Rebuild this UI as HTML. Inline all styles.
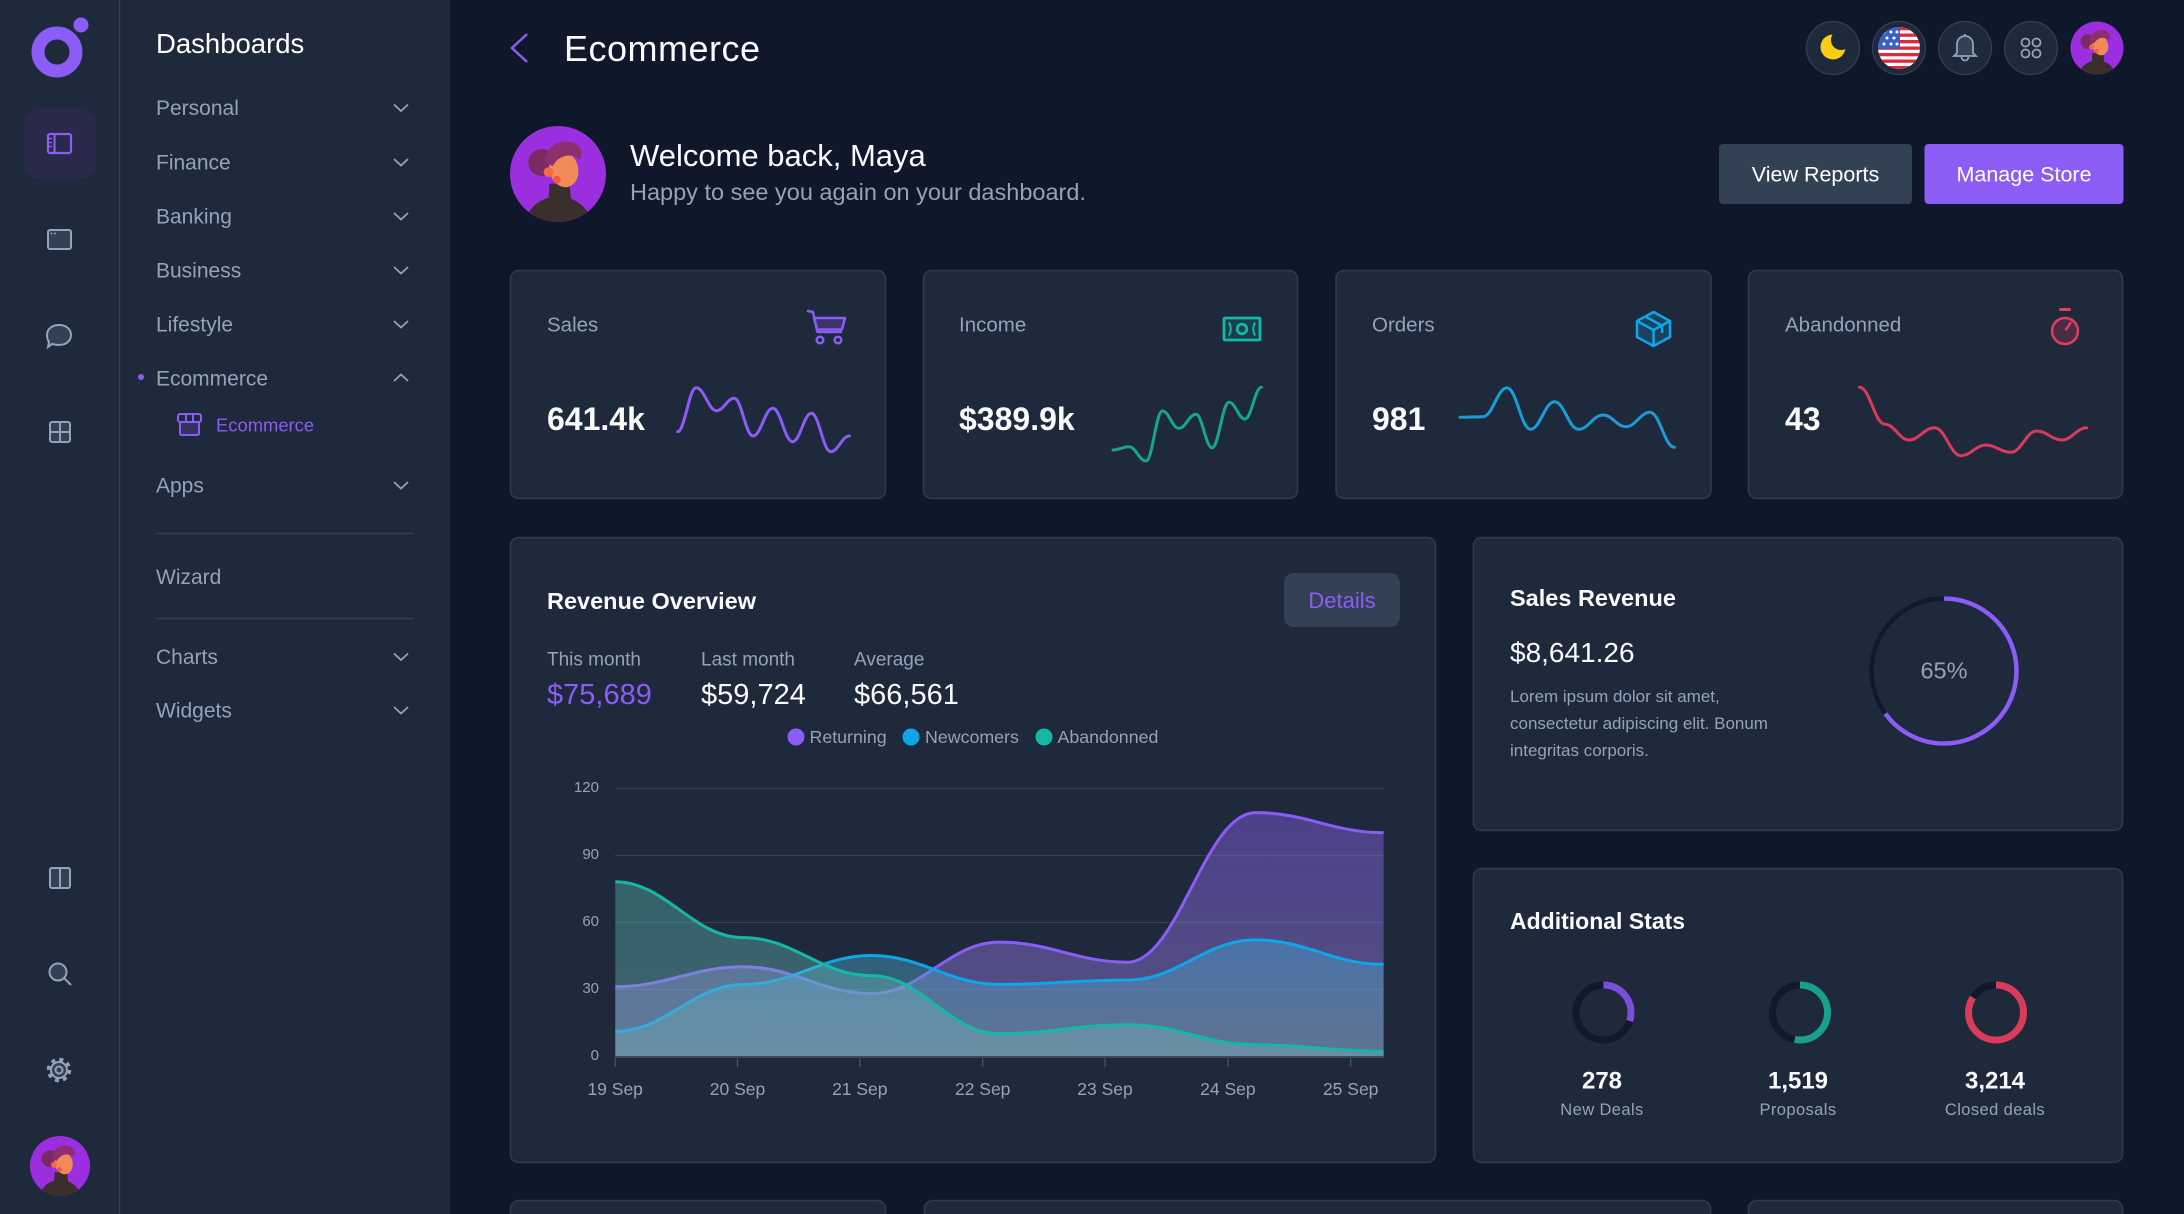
<!DOCTYPE html>
<html><head><meta charset="utf-8">
<style>
html,body{margin:0;padding:0;background:#0f172a;}
body{width:2184px;height:1214px;overflow:hidden;}
svg{display:block;}
text{font-family:"Liberation Sans",sans-serif;}
</style></head>
<body>
<svg width="2184" height="1214" viewBox="0 0 2184 1214" xmlns="http://www.w3.org/2000/svg">
<defs>
  <clipPath id="avc"><circle cx="50" cy="50" r="50"/></clipPath>
  <symbol id="av" viewBox="0 0 100 100">
    <circle cx="50" cy="50" r="50" fill="#9b2fe0"/>
    <g clip-path="url(#avc)">
      <path d="M16,100 C20,82 34,74 50,73 C66,74 80,82 86,100 Z" fill="#3a2f2d"/>
      <path d="M41,60 L62,60 L64,80 L40,80 Z" fill="#3a2f2d"/>
      <circle cx="33" cy="38" r="14" fill="#7b2a63"/>
      <ellipse cx="56" cy="45" rx="15" ry="19" fill="#f28a57" transform="rotate(-15 56 45)"/>
      <path d="M36,36 C38,18 58,11 71,20 C75,24 75,30 73,35 C64,28 52,29 44,42 Z" fill="#8d2f6e"/>
      <circle cx="40" cy="48" r="5" fill="#f46a45"/>
      <circle cx="49" cy="56" r="4" fill="#f0584f"/>
    </g>
  </symbol>
  <clipPath id="flagc"><circle cx="1899" cy="48" r="21"/></clipPath>
  <mask id="moonm"><rect x="1800" y="10" width="70" height="70" fill="#fff"/><circle cx="1841" cy="40" r="10" fill="#000"/></mask>
  <linearGradient id="gp" gradientUnits="userSpaceOnUse" x1="0" y1="790" x2="0" y2="1056">
    <stop offset="0" stop-color="#8b5cf6" stop-opacity="0.42"/>
    <stop offset="1" stop-color="#9a86d8" stop-opacity="0.45"/>
  </linearGradient>
  <linearGradient id="gb" gradientUnits="userSpaceOnUse" x1="0" y1="930" x2="0" y2="1056">
    <stop offset="0" stop-color="#39a6d9" stop-opacity="0.45"/>
    <stop offset="1" stop-color="#6e9ba5" stop-opacity="0.45"/>
  </linearGradient>
  <linearGradient id="gt" gradientUnits="userSpaceOnUse" x1="0" y1="790" x2="0" y2="1056">
    <stop offset="0" stop-color="#40bfa8" stop-opacity="0.4"/>
    <stop offset="1" stop-color="#78b4be" stop-opacity="0.4"/>
  </linearGradient>
</defs>

<!-- backgrounds -->
<rect x="0" y="0" width="2184" height="1214" fill="#0f172a"/>
<rect x="0" y="0" width="450" height="1214" fill="#1e293b"/>
<line x1="119.5" y1="0" x2="119.5" y2="1214" stroke="#334155" stroke-width="1.5"/>

<!-- logo -->
<circle cx="57" cy="52" r="19" fill="none" stroke="#8b5cf6" stroke-width="13"/>
<circle cx="81" cy="25" r="7.5" fill="#8b5cf6"/>

<!-- rail -->
<rect x="24" y="108" width="72" height="71" rx="16" fill="#29294b"/>
<g fill="none" stroke="#8b5cf6" stroke-width="2.2">
  <rect x="48" y="134" width="23" height="19" rx="2"/>
  <line x1="54.5" y1="134" x2="54.5" y2="153"/>
</g>
<g stroke="#8b5cf6" stroke-width="1.5">
  <line x1="49" y1="138.5" x2="52" y2="138.5"/><line x1="49" y1="142.5" x2="52" y2="142.5"/><line x1="49" y1="146.5" x2="52" y2="146.5"/>
</g>
<g fill="none" stroke="#94a3b8" stroke-width="2">
  <rect x="48" y="230" width="23" height="19" rx="2" fill="#334155"/>
  <path d="M59,325 C66,325 71,329 71,335 C71,341 66,345 59,345 C56,345 54,344.5 52,344 L48,347 L49,342 C47.5,340 47,338 47,335 C47,329 52,325 59,325 Z" fill="#334155"/>
  <rect x="50" y="422" width="20" height="20" rx="2" fill="#334155"/>
  <line x1="60" y1="422" x2="60" y2="442"/><line x1="50" y1="432" x2="70" y2="432"/>
  <rect x="50" y="868" width="20" height="20" rx="2" fill="#334155"/>
  <line x1="60" y1="868" x2="60" y2="888"/>
  <circle cx="58" cy="972" r="8.5" fill="#334155"/>
  <line x1="64" y1="978" x2="71" y2="985"/>
  <circle cx="59" cy="1070" r="8" fill="#334155"/>
  <circle cx="59" cy="1070" r="3.5"/>
</g>
<circle cx="59" cy="1070" r="10.5" fill="none" stroke="#94a3b8" stroke-width="3.5" stroke-dasharray="4 4.25"/>
<g fill="#94a3b8"><circle cx="51.5" cy="233.5" r="1"/><circle cx="55" cy="233.5" r="1"/></g>
<use href="#av" x="30" y="1136" width="60" height="60"/>

<!-- sidebar menu -->
<text x="156" y="53" font-size="27.5" fill="#ffffff">Dashboards</text>
<g font-size="21" fill="#94a3b8">
  <text x="156" y="115">Personal</text>
  <text x="156" y="169.5">Finance</text>
  <text x="156" y="223.5">Banking</text>
  <text x="156" y="277.5">Business</text>
  <text x="156" y="331.5">Lifestyle</text>
  <text x="156" y="385.5">Ecommerce</text>
  <text x="156" y="492.5">Apps</text>
  <text x="156" y="584">Wizard</text>
  <text x="156" y="664">Charts</text>
  <text x="156" y="717.5">Widgets</text>
</g>
<g fill="none" stroke="#94a3b8" stroke-width="1.8">
  <path d="M394,104.5 L401,111 L408,104.5"/>
  <path d="M394,159 L401,165.5 L408,159"/>
  <path d="M394,213 L401,219.5 L408,213"/>
  <path d="M394,267 L401,273.5 L408,267"/>
  <path d="M394,321 L401,327.5 L408,321"/>
  <path d="M394,381 L401,374.5 L408,381"/>
  <path d="M394,482 L401,488.5 L408,482"/>
  <path d="M394,653.5 L401,660 L408,653.5"/>
  <path d="M394,707 L401,713.5 L408,707"/>
</g>
<circle cx="141" cy="377" r="3" fill="#8b5cf6"/>
<g fill="none" stroke="#8b5cf6" stroke-width="2">
  <rect x="178" y="414" width="23" height="8" rx="2"/>
  <rect x="180" y="422" width="19" height="13" rx="1.5" fill="#8b5cf6" fill-opacity="0.2"/>
  <line x1="186" y1="414" x2="186" y2="422"/><line x1="193" y1="414" x2="193" y2="422"/>
</g>
<text x="216" y="431.5" font-size="18.4" fill="#8b5cf6">Ecommerce</text>
<g stroke="#334155" stroke-width="1.5">
  <line x1="156" y1="533.5" x2="413" y2="533.5"/>
  <line x1="156" y1="618.5" x2="413" y2="618.5"/>
</g>

<!-- header -->
<path d="M527,34 L512,48 L527,62" fill="none" stroke="#8b5cf6" stroke-width="2.5"/>
<text x="564" y="61" font-size="36" fill="#f8fafc" letter-spacing="0.5">Ecommerce</text>

<g fill="#1e293b" stroke="#334155" stroke-width="1.2">
  <circle cx="1833" cy="48" r="26.5"/>
  <circle cx="1899" cy="48" r="26.5"/>
  <circle cx="1965" cy="48" r="26.5"/>
  <circle cx="2031" cy="48" r="26.5"/>
</g>
<circle cx="1833" cy="47" r="12.5" fill="#facc15" mask="url(#moonm)"/>
<g clip-path="url(#flagc)">
  <rect x="1876" y="25" width="46" height="46" fill="#ffffff"/>
  <g fill="#e0263a">
    <rect x="1876" y="27" width="46" height="3.3"/>
    <rect x="1876" y="33.5" width="46" height="3.3"/>
    <rect x="1876" y="40" width="46" height="3.3"/>
    <rect x="1876" y="46.5" width="46" height="3.3"/>
    <rect x="1876" y="53" width="46" height="3.3"/>
    <rect x="1876" y="59.5" width="46" height="3.3"/>
    <rect x="1876" y="66" width="46" height="4"/>
  </g>
  <rect x="1876" y="25" width="24" height="24" fill="#3b5fc6"/>
  <g fill="#ffffff">
    <circle cx="1884" cy="32" r="1.5"/><circle cx="1891" cy="32" r="1.5"/><circle cx="1897" cy="32" r="1.5"/>
    <circle cx="1887" cy="38" r="1.5"/><circle cx="1894" cy="38" r="1.5"/>
    <circle cx="1884" cy="44" r="1.5"/><circle cx="1891" cy="44" r="1.5"/><circle cx="1897" cy="44" r="1.5"/>
  </g>
</g>
<g fill="none" stroke="#94a3b8" stroke-width="1.8">
  <path d="M1957,53 L1957,44 A8,8 0 0 1 1973,44 L1973,53 L1976,56 L1954,56 Z" fill="#334155"/>
  <path d="M1961.5,57 A3.5,3.5 0 0 0 1968.5,57"/>
  <line x1="1965" y1="34" x2="1965" y2="36"/>
  <circle cx="2025.5" cy="42.5" r="4"/><circle cx="2036.5" cy="42.5" r="4"/>
  <circle cx="2025.5" cy="53.5" r="4"/><circle cx="2036.5" cy="53.5" r="4"/>
</g>
<use href="#av" x="2070.5" y="21.5" width="53" height="53"/>

<!-- welcome -->
<use href="#av" x="510" y="126" width="96" height="96"/>
<text x="630" y="166" font-size="31" fill="#f8fafc">Welcome back, Maya</text>
<text x="630" y="200" font-size="23.5" fill="#94a3b8">Happy to see you again on your dashboard.</text>
<rect x="1719" y="144" width="193" height="60" rx="4" fill="#334155"/>
<text x="1815.5" y="181.5" font-size="21.5" fill="#ffffff" text-anchor="middle">View Reports</text>
<rect x="1924.5" y="144" width="199" height="60" rx="4" fill="#8b5cf6"/>
<text x="2024" y="181.5" font-size="21.5" fill="#ffffff" text-anchor="middle">Manage Store</text>

<!-- stat cards -->
<g fill="#1e293b" stroke="#2e3b51" stroke-width="1.5">
  <rect x="510.5" y="270.5" width="375" height="228" rx="8"/>
  <rect x="923.5" y="270.5" width="374" height="228" rx="8"/>
  <rect x="1336" y="270.5" width="375" height="228" rx="8"/>
  <rect x="1748.5" y="270.5" width="374" height="228" rx="8"/>
</g>
<g font-size="20.5" fill="#94a3b8">
  <text x="547" y="331.7">Sales</text>
  <text x="959" y="331.7">Income</text>
  <text x="1372" y="331.7">Orders</text>
  <text x="1785" y="331.7">Abandonned</text>
</g>
<g font-size="32" font-weight="bold" fill="#f8fafc">
  <text x="547" y="430">641.4k</text>
  <text x="959" y="430">$389.9k</text>
  <text x="1372" y="430">981</text>
  <text x="1785" y="430">43</text>
</g>
<!-- stat icons -->
<g fill="none" stroke="#8b5cf6" stroke-width="2.5" stroke-linejoin="round" stroke-linecap="round">
  <path d="M808,311 L813,312 L817.5,332 L841,332"/>
  <path d="M814,318 L845,318 L842,329.5 L817,329.5 Z" fill="#8b5cf6" fill-opacity="0.25"/>
  <circle cx="820" cy="340" r="3.3"/><circle cx="838" cy="340" r="3.3"/>
</g>
<g fill="none" stroke="#14b8a6" stroke-width="2.8">
  <rect x="1224" y="318" width="36" height="22" rx="1" fill="#14b8a6" fill-opacity="0.15"/>
  <circle cx="1242" cy="329" r="4.8"/>
  <path d="M1229,322.5 Q1232.5,329 1229,335.5" stroke-width="2"/>
  <path d="M1255,322.5 Q1251.5,329 1255,335.5" stroke-width="2"/>
</g>
<g fill="none" stroke="#0ea5e9" stroke-width="2.5" stroke-linejoin="round">
  <path d="M1653.5,312 L1670,321 L1670,337 L1653.5,346 L1637,337 L1637,321 Z" fill="#0ea5e9" fill-opacity="0.2"/>
  <path d="M1637,321 L1653.5,330 L1670,321 M1653.5,330 L1653.5,346 M1645,316.5 L1662,325.5 L1662,333"/>
</g>
<g fill="none" stroke="#e23d5e" stroke-width="2.5" stroke-linecap="round">
  <circle cx="2065" cy="331" r="13" fill="#e23d5e" fill-opacity="0.22"/>
  <line x1="2060.5" y1="309.5" x2="2069.5" y2="309.5" stroke-width="3"/>
  <line x1="2066" y1="329.5" x2="2070.5" y2="323"/>
</g>
<!-- sparklines -->
<g fill="none" stroke-width="3" stroke-linecap="round">
  <path stroke="#8b5cf6" d="M677.5,431.7 C685,431.7 688.7,387.7 696.2,387.7 C704.4,387.7 708.4,410.7 716.6,410.7 C723.6,410.7 727.2,398.3 734.2,398.3 C741.7,398.3 745.5,436 753,436 C760.9,436 764.9,408.3 772.8,408.3 C780.7,408.3 784.7,441.7 792.6,441.7 C800.1,441.7 803.9,413.3 811.4,413.3 C819.1,413.3 823,451.7 830.7,451.7 C838.2,451.7 841.9,436 849.4,436"/>
  <path stroke="#17a58f" d="M1113,450 C1119.4,450 1122.6,446.7 1129,446.7 C1135.8,446.7 1139.2,461 1146,461 C1152.6,461 1155.8,411 1162.4,411 C1169,411 1172.2,428.3 1178.8,428.3 C1185.7,428.3 1189.1,414.3 1196,414.3 C1202.4,414.3 1205.6,447.7 1212,447.7 C1218.8,447.7 1222.2,402.3 1229,402.3 C1235.4,402.3 1238.6,419 1245,419 C1251.5,419 1254.8,387.3 1261.3,387.3"/>
  <path stroke="#1b9bd8" d="M1460,417.3 C1469.2,417.3 1473.8,416.7 1483,416.7 C1492.6,416.7 1497.4,387.7 1507,387.7 C1516.4,387.7 1521.1,429.3 1530.5,429.3 C1540.1,429.3 1544.9,401.7 1554.5,401.7 C1564.1,401.7 1568.9,429.3 1578.5,429.3 C1588.3,429.3 1593.2,415 1603,415 C1612.2,415 1616.8,426.7 1626,426.7 C1635.6,426.7 1640.4,412.3 1650,412.3 C1659.8,412.3 1664.6,447.3 1674.4,447.3"/>
  <path stroke="#d93b5c" d="M1859.6,387.3 C1869.8,387.3 1874.8,424.3 1885,424.3 C1894.6,424.3 1899.4,440 1909,440 C1919.2,440 1924.4,427.7 1934.6,427.7 C1945.2,427.7 1950.4,455.7 1961,455.7 C1970.8,455.7 1975.8,445 1985.6,445 C1995.8,445 2000.8,452.3 2011,452.3 C2021.2,452.3 2026.4,431 2036.6,431 C2046.8,431 2051.8,440 2062,440 C2071.8,440 2076.8,427.7 2086.6,427.7"/>
</g>

<!-- big cards -->
<g fill="#1e293b" stroke="#2e3b51" stroke-width="1.5">
  <rect x="510.5" y="537.5" width="925" height="625" rx="8"/>
  <rect x="1473.5" y="537.5" width="649" height="293" rx="8"/>
  <rect x="1473.5" y="868.5" width="649" height="294" rx="8"/>
  <rect x="510.5" y="1200.5" width="375" height="60" rx="8"/>
  <rect x="924.5" y="1200.5" width="786" height="60" rx="8"/>
  <rect x="1748.5" y="1200.5" width="374" height="60" rx="8"/>
</g>

<!-- revenue overview -->
<text x="547" y="609" font-size="23.5" font-weight="bold" fill="#f8fafc">Revenue Overview</text>
<rect x="1284" y="573" width="116" height="54" rx="10" fill="#334155"/>
<text x="1342" y="608" font-size="22" fill="#8b5cf6" text-anchor="middle">Details</text>
<g font-size="19" fill="#94a3b8">
  <text x="547" y="665.5">This month</text>
  <text x="701" y="665.5">Last month</text>
  <text x="854" y="665.5">Average</text>
</g>
<g font-size="29">
  <text x="547" y="704" fill="#8b5cf6">$75,689</text>
  <text x="701" y="704" fill="#f8fafc">$59,724</text>
  <text x="854" y="704" fill="#f8fafc">$66,561</text>
</g>
<circle cx="796" cy="737" r="8.5" fill="#8b5cf6"/>
<circle cx="911" cy="737" r="8.5" fill="#0ea5e9"/>
<circle cx="1044" cy="737" r="8.5" fill="#14b8a6"/>
<g font-size="17.8" fill="#94a3b8">
  <text x="809.5" y="743">Returning</text>
  <text x="925" y="743">Newcomers</text>
  <text x="1057.5" y="743">Abandonned</text>
</g>

<!-- chart grid -->
<g stroke="#334155" stroke-width="1.2">
  <line x1="615" y1="788.5" x2="1384" y2="788.5"/>
  <line x1="615" y1="855.5" x2="1384" y2="855.5"/>
  <line x1="615" y1="922.5" x2="1384" y2="922.5"/>
  <line x1="615" y1="989.5" x2="1384" y2="989.5"/>
</g>
<g font-size="15" fill="#94a3b8" text-anchor="end">
  <text x="599" y="792">120</text>
  <text x="599" y="859">90</text>
  <text x="599" y="926">60</text>
  <text x="599" y="993">30</text>
  <text x="599" y="1060">0</text>
</g>

<!-- series -->
<path fill="url(#gp)" d="M615.3,986.8 C666.3,986.8 692.4,966.7 743.4,966.7 C794.4,966.7 820.4,993.5 871.4,993.5 C922.4,993.5 948.5,942.1 999.5,942.1 C1050.5,942.1 1076.5,962.2 1127.5,962.2 C1178.5,962.2 1204.6,812.6 1255.6,812.6 C1306.6,812.6 1332.6,832.7 1383.6,832.7 L1383.6,1056 L615.3,1056 Z"/>
<path fill="none" stroke="#8b5cf6" stroke-width="3" d="M615.3,986.8 C666.3,986.8 692.4,966.7 743.4,966.7 C794.4,966.7 820.4,993.5 871.4,993.5 C922.4,993.5 948.5,942.1 999.5,942.1 C1050.5,942.1 1076.5,962.2 1127.5,962.2 C1178.5,962.2 1204.6,812.6 1255.6,812.6 C1306.6,812.6 1332.6,832.7 1383.6,832.7"/>
<path fill="url(#gb)" d="M615.3,1031.4 C666.3,1031.4 692.4,984.5 743.4,984.5 C794.4,984.5 820.4,955.5 871.4,955.5 C922.4,955.5 948.5,984.5 999.5,984.5 C1050.5,984.5 1076.5,980.1 1127.5,980.1 C1178.5,980.1 1204.6,939.9 1255.6,939.9 C1306.6,939.9 1332.6,964.4 1383.6,964.4 L1383.6,1056 L615.3,1056 Z"/>
<path fill="none" stroke="#0ea5e9" stroke-width="3" d="M615.3,1031.4 C666.3,1031.4 692.4,984.5 743.4,984.5 C794.4,984.5 820.4,955.5 871.4,955.5 C922.4,955.5 948.5,984.5 999.5,984.5 C1050.5,984.5 1076.5,980.1 1127.5,980.1 C1178.5,980.1 1204.6,939.9 1255.6,939.9 C1306.6,939.9 1332.6,964.4 1383.6,964.4"/>
<path fill="url(#gt)" d="M615.3,881.8 C666.3,881.8 692.4,937.6 743.4,937.6 C794.4,937.6 820.4,975.6 871.4,975.6 C922.4,975.6 948.5,1033.7 999.5,1033.7 C1050.5,1033.7 1076.5,1024.7 1127.5,1024.7 C1178.5,1024.7 1204.6,1044.8 1255.6,1044.8 C1306.6,1044.8 1332.6,1051.5 1383.6,1051.5 L1383.6,1056 L615.3,1056 Z"/>
<path fill="none" stroke="#14b8a6" stroke-width="3" d="M615.3,881.8 C666.3,881.8 692.4,937.6 743.4,937.6 C794.4,937.6 820.4,975.6 871.4,975.6 C922.4,975.6 948.5,1033.7 999.5,1033.7 C1050.5,1033.7 1076.5,1024.7 1127.5,1024.7 C1178.5,1024.7 1204.6,1044.8 1255.6,1044.8 C1306.6,1044.8 1332.6,1051.5 1383.6,1051.5"/>

<!-- x axis -->
<line x1="615" y1="1057" x2="1384" y2="1057" stroke="#3b4a62" stroke-width="2"/>
<g stroke="#475569" stroke-width="1.2">
  <line x1="615.2" y1="1058" x2="615.2" y2="1067"/>
  <line x1="737.5" y1="1058" x2="737.5" y2="1067"/>
  <line x1="859.8" y1="1058" x2="859.8" y2="1067"/>
  <line x1="982.7" y1="1058" x2="982.7" y2="1067"/>
  <line x1="1105" y1="1058" x2="1105" y2="1067"/>
  <line x1="1227.9" y1="1058" x2="1227.9" y2="1067"/>
  <line x1="1350.7" y1="1058" x2="1350.7" y2="1067"/>
</g>
<g font-size="17.5" fill="#94a3b8" text-anchor="middle">
  <text x="615.2" y="1095">19 Sep</text>
  <text x="737.5" y="1095">20 Sep</text>
  <text x="859.8" y="1095">21 Sep</text>
  <text x="982.7" y="1095">22 Sep</text>
  <text x="1105" y="1095">23 Sep</text>
  <text x="1227.9" y="1095">24 Sep</text>
  <text x="1350.7" y="1095">25 Sep</text>
</g>

<!-- sales revenue -->
<text x="1510" y="606" font-size="23.5" font-weight="bold" fill="#f8fafc">Sales Revenue</text>
<text x="1510" y="662" font-size="28" fill="#f8fafc">$8,641.26</text>
<g font-size="17" fill="#94a3b8">
  <text x="1510" y="702">Lorem ipsum dolor sit amet,</text>
  <text x="1510" y="729">consectetur adipiscing elit. Bonum</text>
  <text x="1510" y="756">integritas corporis.</text>
</g>
<circle cx="1944" cy="671" r="72.5" fill="none" stroke="#111a2d" stroke-width="4.5"/>
<circle cx="1944" cy="671" r="72.5" fill="none" stroke="#8b5cf6" stroke-width="4.5" stroke-dasharray="296.1 455.5" transform="rotate(-90 1944 671)"/>
<text x="1944" y="678.5" font-size="23.5" fill="#94a3b8" text-anchor="middle">65%</text>

<!-- additional stats -->
<text x="1510" y="929" font-size="23" font-weight="bold" fill="#f8fafc">Additional Stats</text>
<g fill="none" stroke="#111a2d" stroke-width="7">
  <circle cx="1603.5" cy="1012.5" r="27.5"/>
  <circle cx="1800" cy="1012.5" r="27.5"/>
  <circle cx="1996" cy="1012.5" r="27.5"/>
</g>
<circle cx="1603.5" cy="1012.5" r="27.5" fill="none" stroke="#7c4ddb" stroke-width="7" stroke-dasharray="51.8 172.8" transform="rotate(-90 1603.5 1012.5)"/>
<circle cx="1800" cy="1012.5" r="27.5" fill="none" stroke="#17a08c" stroke-width="7" stroke-dasharray="91.6 172.8" transform="rotate(-90 1800 1012.5)"/>
<circle cx="1996" cy="1012.5" r="27.5" fill="none" stroke="#d93b5a" stroke-width="7" stroke-dasharray="145.2 172.8" transform="rotate(-90 1996 1012.5)"/>
<g font-size="24" font-weight="bold" fill="#f8fafc" text-anchor="middle">
  <text x="1602" y="1088.3">278</text>
  <text x="1798" y="1088.3">1,519</text>
  <text x="1995" y="1088.3">3,214</text>
</g>
<g font-size="16.5" fill="#94a3b8" text-anchor="middle" letter-spacing="0.4">
  <text x="1602" y="1115">New Deals</text>
  <text x="1798" y="1115">Proposals</text>
  <text x="1995" y="1115">Closed deals</text>
</g>
</svg>
</body></html>
